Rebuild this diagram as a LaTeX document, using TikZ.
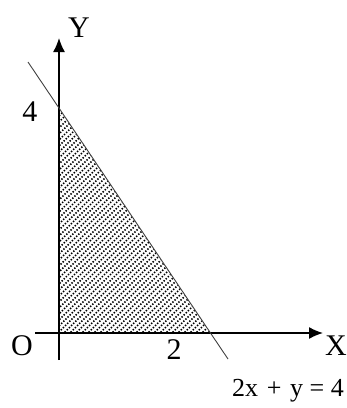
\documentclass[tikz,border=0pt]{standalone}
\usepackage{fontspec}
\setmainfont{Liberation Serif}
\usetikzlibrary{arrows.meta}
\begin{document}
\begin{tikzpicture}[x=1pt,y=-1pt,
  axis/.style={line width=1.4pt,-{Latex[length=14pt,width=12pt]}},
  boundary/.style={line width=0.9pt,black!75},
  hatch/.style={line width=1.5pt,black,dash pattern=on 1.4pt off 1.6pt},
  lbl/.style={inner sep=0pt,font=\fontsize{30}{33}\selectfont},
  eqlbl/.style={inner sep=0pt,font=\fontsize{26}{30}\selectfont}]
\useasboundingbox (0,0) rectangle (347,408);
% coordinates
\coordinate (o) at (59,333);
\coordinate (ytop) at (59,38);
\coordinate (ybot) at (59,360);
\coordinate (xl) at (35,333);
\coordinate (xr) at (323,333);
\coordinate (l1) at (28,62);
\coordinate (l2) at (228,359);
\coordinate (a) at (59,108);
\coordinate (b) at (210,333);
% shading
\begin{scope}
  \clip (o) -- (a) -- (b) -- cycle;
  \foreach \i in {-260,-254,...,220} {
    \draw[hatch] (\i,345) -- (\i+310,35);
  }
\end{scope}
% axes
\draw[axis] (ybot) -- (ytop);
\draw[axis] (xl) -- (xr);
% boundary line
\draw[boundary] (l1) -- (l2);
% labels
\node[lbl] (ylab) at (79,28) {Y};
\node[lbl] (xlab) at (336,346) {X};
\node[lbl] (olab) at (22,346) {O};
\node[lbl] (four) at (30,112) {4};
\node[lbl] (two) at (174,350) {2};
\node[eqlbl,anchor=east] (eq) at (344,391) {2x\,\,+\,\,y = 4};
\end{tikzpicture}
\end{document}
